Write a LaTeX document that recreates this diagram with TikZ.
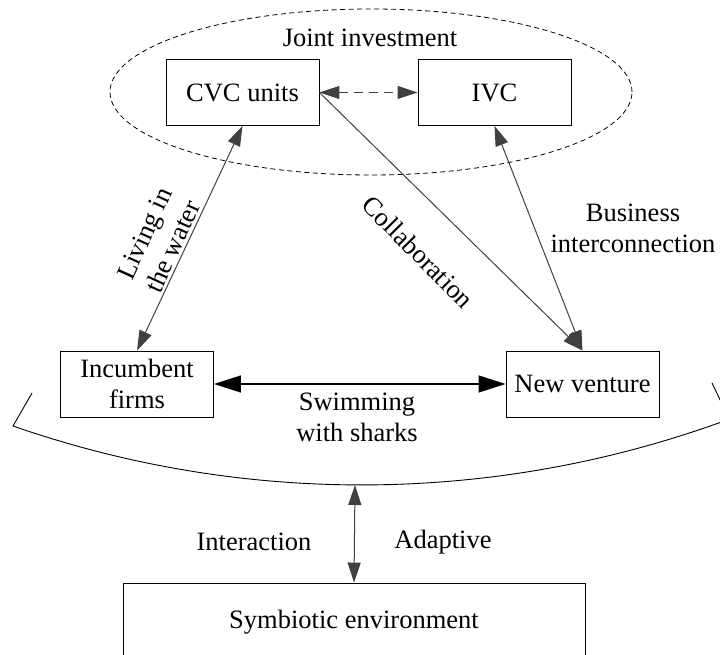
\documentclass[tikz,border=0pt]{standalone}
\usepackage{fontspec}
\setmainfont{Liberation Serif}
\usetikzlibrary{arrows.meta,shapes.geometric}
\definecolor{darkg}{HTML}{404040}
\begin{document}
\begin{tikzpicture}[x=1pt,y=1pt,
  txt/.style={font=\fontsize{26.5}{31}\selectfont},
  box/.style={txt,draw=black,line width=0.9pt,minimum width=153pt,minimum height=66pt,inner sep=0pt,align=center},
  lbl/.style={txt,align=center,inner sep=0pt},
  conn/.style={draw=darkg,line width=1pt},
  smalltip/.tip={Triangle[length=20pt,width=13pt]},
  bigtip/.tip={Triangle[length=27pt,width=17pt]}
]
\useasboundingbox (0,0) rectangle (720,655);

% joint investment ellipse
\node[ellipse,draw=black,line width=0.8pt,dash pattern=on 5pt off 3.5pt,
      minimum width=522pt,minimum height=166pt,inner sep=0pt] (jointell) at (371,563) {};
\node[lbl] (jointlbl) at (370,617) {Joint investment};

% boxes
\node[box] (cvc) at (242.5,562.5) {CVC units};
\node[box] (ivc) at (494.5,562.5) {IVC};
\node[box] (inc) at (137,271) {Incumbent\\firms};
\node[box] (nv) at (582.5,271) {New venture};
\node[box,minimum width=462pt,minimum height=78pt] (env) at (354,33) {Symbiotic environment};

% bowl arc
\coordinate (bowlA) at (32,262);
\coordinate (bowlL) at (13,229);
\coordinate (bowlB) at (712,272);
\draw[line width=0.9pt] (bowlA) -- (bowlL) arc[start angle=250.8,end angle=290.3,radius=1060] -- (bowlB);
\coordinate (arcbot) at (355,170);

% connectors
\draw[conn,dash pattern=on 9pt off 6pt,smalltip-smalltip] (cvc.east) -- (ivc.west);
\draw[conn,smalltip-smalltip] (cvc.south) -- (inc.north);
\draw[conn,-smalltip] (cvc.east) -- (nv.north);
\draw[conn,smalltip-smalltip] (ivc.south) -- (nv.north);
\draw[draw=black,line width=1.2pt,bigtip-bigtip] (inc.east) -- (nv.west);
\draw[conn,smalltip-smalltip] (arcbot) -- (env.north);

% labels
\node[lbl,rotate=65.6] (livlbl) at (158.5,415) {Living in\\the water};
\node[lbl,rotate=-45.3] (collbl) at (418,403) {Collaboration};
\node[lbl] (buslbl) at (633,427) {Business\\interconnection};
\node[lbl] (swimlbl) at (357,237.5) {Swimming\\with sharks};
\node[lbl] (intlbl) at (254,113) {Interaction};
\node[lbl] (adlbl) at (443,113) {Adaptive};
\end{tikzpicture}
\end{document}
